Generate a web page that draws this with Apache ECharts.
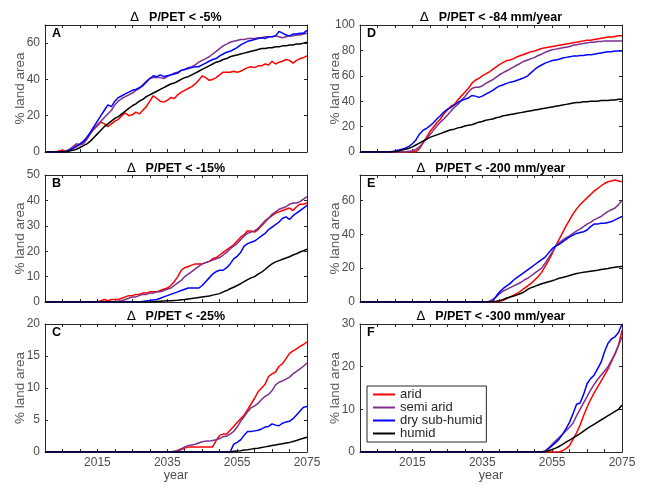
<!DOCTYPE html>
<html>
<head>
<meta charset="utf-8">
<script src="https://cdn.jsdelivr.net/npm/echarts@6/dist/echarts.min.js"></script>
<style>
  html, body { margin: 0; padding: 0; background: #fff; }
  #chart { width: 648px; height: 485px; }
</style>
</head>
<body>
<div id="chart"></div>
<script>
// years shared by every panel
const years = [
  2000, 2001, 2002, 2003, 2004, 2005, 2006, 2007, 2008, 2009,
  2010, 2011, 2012, 2013, 2014, 2015, 2016, 2017, 2018, 2019,
  2020, 2021, 2022, 2023, 2024, 2025, 2026, 2027, 2028, 2029,
  2030, 2031, 2032, 2033, 2034, 2035, 2036, 2037, 2038, 2039,
  2040, 2041, 2042, 2043, 2044, 2045, 2046, 2047, 2048, 2049,
  2050, 2051, 2052, 2053, 2054, 2055, 2056, 2057, 2058, 2059,
  2060, 2061, 2062, 2063, 2064, 2065, 2066, 2067, 2068, 2069,
  2070, 2071, 2072, 2073, 2074, 2075
];

// A: dP/PET < -5%
const aArid = [
  0, 0, 0, 0, 0.5, 1, 0.5, 1, 2, 3.5,
  4, 5.5, 8, 10.5, 12.5, 14.5, 16.5, 15.5, 14, 15.5,
  17, 18, 20, 21.5, 20, 20.5, 22, 21, 23, 25,
  28, 31, 29.5, 28, 27.5, 28.5, 30, 29.5, 31.5, 33,
  34, 35, 36, 37.5, 39.5, 42, 41, 39.5, 40, 41,
  42.5, 44, 44, 44, 44.5, 44, 44.5, 45.5, 46.5, 47,
  46.5, 47.5, 47.5, 48.5, 48, 50, 48.5, 49.5, 50, 51,
  50.5, 49, 50.5, 51.5, 52, 53
];
const aSemi = [
  0, 0, 0, 0, 0, 0, 0.5, 1.5, 3, 4.5,
  4, 4.5, 7, 10, 13, 15, 17, 19, 21, 23,
  26, 28, 29.5, 30.5, 31.5, 32.5, 34, 35, 37, 39,
  40.5, 41, 41, 41, 40.5, 41.5, 42.5, 43.5, 44, 45,
  45.5, 46.5, 47, 48, 49.5, 50.5, 51.5, 52.5, 54, 55.5,
  57, 58.5, 59.5, 60.5, 61, 61.5, 62, 62, 62.5, 62.5,
  62.5, 63, 63, 63.5, 63.5, 63.5, 64, 63.5, 63, 63.5,
  64, 64, 64.5, 64.5, 65, 65.5
];
const aDry = [
  0, 0, 0, 0, 0, 0, 0.3, 1, 2, 3,
  4.5, 6, 8, 11, 14, 17, 20, 23, 26, 25,
  28, 30, 31, 32, 33, 34, 34.5, 35.5, 36.5, 38.5,
  40.5, 42, 41.5, 42.5, 41.5, 42, 42.5, 43, 43.5, 45,
  45.5, 46, 46.5, 47, 47, 48, 49, 50, 51, 51.5,
  53, 54, 55, 55.5, 56.5, 57.5, 59, 60, 61, 61.5,
  62, 62.5, 63, 62.5, 63.5, 63.5, 64, 66.5, 65.5, 64.5,
  64, 65, 65, 65.5, 65.5, 67
];
const aHumid = [
  0, 0, 0, 0, 0, 0, 0, 0.5, 1, 1.5,
  2.5, 3.5, 4.5, 6, 8, 10, 12, 14, 15.5, 17,
  18.5, 19.5, 21, 22.5, 24, 25.5, 26.5, 28, 29, 30.5,
  31.5, 32.5, 33.5, 34.5, 35.5, 36.5, 37.5, 38, 39, 40,
  41, 41.5, 42.5, 43.5, 44.5, 45.5, 46.5, 47.5, 48.5, 49.5,
  50, 51, 51.5, 52.5, 53, 53.5, 54, 54.5, 55, 55.5,
  56, 56.5, 57, 57, 57.5, 57.5, 58, 58, 58.5, 58.5,
  59, 59, 59.5, 59.5, 60, 60.5
];

// B: dP/PET < -15%
const bArid = [
  0, 0, 0, 0, 0, 0, 0, 0, 0, 0,
  0, 0, 0, 0, 0, 0, 0.5, 1, 0.5, 1,
  1, 1, 1.5, 2, 2.5, 2.5, 3, 3, 3.5, 3.5,
  4, 4, 4, 4.5, 5, 5.5, 6.5, 8, 10, 12.5,
  13.5, 14, 14.5, 15, 15, 15, 15.5, 16, 17, 17.5,
  18.5, 19.5, 20.5, 21.5, 22.5, 24, 25.5, 26.5, 28, 28,
  27.5, 28.5, 30, 31.5, 33, 34, 35, 35.5, 36, 36.5,
  37, 36, 37.5, 38.5, 38.5, 39
];
const bSemi = [
  0, 0, 0, 0, 0, 0, 0, 0, 0, 0,
  0, 0, 0, 0, 0, 0, 0, 0, 0, 0,
  0, 0.3, 0.5, 1, 1.5, 2, 2, 2.5, 3, 3,
  3.5, 3.5, 4, 4, 4.5, 5, 5.5, 6.5, 7.5, 8.5,
  10, 11, 12, 13, 14, 15, 15.5, 16, 16.5, 17,
  17.5, 18.5, 19.5, 21, 22, 23, 24.5, 26, 27, 27.5,
  28, 29, 30.5, 32, 33, 34.5, 35.5, 36.5, 37, 37.5,
  38.5, 39, 39, 39.5, 40.5, 41.5
];
const bDry = [
  0, 0, 0, 0, 0, 0, 0, 0, 0, 0,
  0, 0, 0, 0, 0, 0, 0, 0, 0, 0,
  0, 0, 0, 0, 0, 0, 0, 0, 0.2, 0.4,
  0.6, 0.8, 1, 1.5, 2, 2.5, 3, 3.5, 4, 4.5,
  5, 5.5, 5.5, 5.5, 5.5, 6.5, 8, 9.5, 11, 12,
  12.5, 12.5, 13.5, 15, 17, 18, 19.5, 22, 23, 23.5,
  24, 25, 26, 27, 28.5, 29.5, 30.5, 31.5, 33, 33.5,
  32.5, 34, 35, 36, 37, 38
];
const bHumid = [
  0, 0, 0, 0, 0, 0, 0, 0, 0, 0,
  0, 0, 0, 0, 0, 0, 0, 0, 0, 0,
  0, 0, 0, 0, 0, 0, 0, 0, 0, 0,
  0, 0.1, 0.2, 0.3, 0.4, 0.5, 0.5, 0.6, 0.7, 0.9,
  1, 1.2, 1.4, 1.6, 1.8, 2, 2.2, 2.4, 2.7, 3,
  3.3, 4, 4.5, 5.2, 5.8, 6.5, 7.2, 8, 8.8, 9.5,
  10, 11, 11.8, 12.8, 14, 15, 15.8, 16.3, 16.8, 17.3,
  17.8, 18.5, 19, 19.7, 20.2, 20.8
];

// C: dP/PET < -25%
const cArid = [
  0, 0, 0, 0, 0, 0, 0, 0, 0, 0,
  0, 0, 0, 0, 0, 0, 0, 0, 0, 0,
  0, 0, 0, 0, 0, 0, 0, 0, 0, 0,
  0, 0, 0, 0, 0, 0, 0, 0, 0.2, 0.4,
  0.6, 0.8, 0.8, 0.8, 0.8, 0.8, 0.8, 0.8, 0.8, 1.8,
  2.6, 2.8, 2.8, 3.4, 4, 4.6, 5.2, 5.8, 6.6, 7.5,
  8.4, 9.4, 10, 10.6, 11.8, 12.2, 12.5, 13.4, 13.8, 14.6,
  15.4, 15.8, 16.1, 16.5, 16.8, 17.2
];
const cSemi = [
  0, 0, 0, 0, 0, 0, 0, 0, 0, 0,
  0, 0, 0, 0, 0, 0, 0, 0, 0, 0,
  0, 0, 0, 0, 0, 0, 0, 0, 0, 0,
  0, 0, 0, 0, 0, 0, 0, 0.1, 0.3, 0.5,
  0.8, 1, 1.1, 1.2, 1.4, 1.6, 1.7, 1.7, 1.8, 1.9,
  2.1, 2.4, 2.5, 2.8, 3.2, 3.9, 4.8, 5.5, 6.3, 6.9,
  7.2, 7.6, 8.2, 8.7, 9, 9.6, 10.5, 10.9, 11.1, 11.4,
  11.7, 12.2, 12.6, 13, 13.4, 13.9
];
const cDry = [
  0, 0, 0, 0, 0, 0, 0, 0, 0, 0,
  0, 0, 0, 0, 0, 0, 0, 0, 0, 0,
  0, 0, 0, 0, 0, 0, 0, 0, 0, 0,
  0, 0, 0, 0, 0, 0, 0, 0, 0, 0,
  0, 0, 0, 0, 0, 0, 0, 0, 0, 0,
  0, 0, 0, 0, 1.2, 1.5, 1.9, 2.6, 3.2, 3.2,
  3.3, 3.4, 3.6, 3.9, 4, 4.4, 4.2, 4.1, 4.5, 4.7,
  4.8, 5.2, 5.8, 6.4, 7, 7.1
];
const cHumid = [
  0, 0, 0, 0, 0, 0, 0, 0, 0, 0,
  0, 0, 0, 0, 0, 0, 0, 0, 0, 0,
  0, 0, 0, 0, 0, 0, 0, 0, 0, 0,
  0, 0, 0, 0, 0, 0, 0, 0, 0, 0,
  0, 0, 0, 0, 0, 0, 0, 0, 0, 0,
  0, 0, 0, 0.05, 0.1, 0.15, 0.2, 0.3, 0.35, 0.45,
  0.55, 0.6, 0.7, 0.8, 0.9, 1, 1.1, 1.2, 1.3, 1.4,
  1.5, 1.65, 1.8, 2, 2.15, 2.3
];

// D: dP/PET < -84 mm/year
const dArid = [
  0, 0, 0, 0, 0, 0, 0, 0, 0, 0,
  0, 0, 0, 0, 0, 0, 0.3, 2.5, 7, 11.5,
  16, 19.5, 23, 26, 30, 33, 36, 37.5, 41, 44,
  47, 50, 54, 56.5, 58, 60, 61.5, 63, 65, 67,
  69, 70.5, 72, 72.5, 73.5, 75, 76, 77, 78, 79,
  79.5, 80.5, 81.5, 82, 82.5, 83, 83.5, 84, 84.5, 85,
  85.5, 86, 86.5, 87, 87.5, 88, 88, 88.5, 89, 89.5,
  90, 90.5, 90.5, 91, 91.5, 91.5
];
const dSemi = [
  0, 0, 0, 0, 0, 0, 0, 0, 0, 0,
  0, 0, 0, 0.2, 0.5, 1, 2, 4, 7, 10.5,
  13.5, 17, 20.5, 23.5, 26, 29, 32, 35, 37.5, 40.5,
  43.5, 47, 50, 51, 51, 52, 54, 55.5, 57, 59,
  61, 62.5, 64, 65.5, 67, 68.5, 70, 71.5, 72.5, 73.5,
  74.5, 76, 77, 78.5, 79.5, 80.5, 81, 81.5, 82, 82.5,
  83, 84, 84.5, 85, 85.5, 86, 86.5, 86.5, 87, 87,
  87.5, 87.5, 87.5, 87.5, 87.5, 87.5
];
const dDry = [
  0, 0, 0, 0, 0, 0, 0, 0, 0, 0.3,
  0.8, 1.5, 2.2, 3, 4.5, 6.5, 9.5, 14, 17, 18.5,
  20.5, 23, 26, 28.5, 31.5, 33.5, 35, 37, 39, 40.5,
  41.5, 42.5, 44.5, 44, 43, 44, 45.5, 47, 48.5, 50.5,
  52, 53, 54, 55, 55.5, 56.5, 57.5, 58.5, 60, 62.5,
  65, 67, 68.5, 70, 71, 72, 72.5, 73, 74, 74.5,
  75, 75.5, 75.5, 76, 76, 76.5, 76.5, 77, 77.5, 78,
  78.5, 79, 79, 79.5, 79.5, 79.5
];
const dHumid = [
  0, 0, 0, 0, 0, 0, 0, 0, 0, 0,
  0.3, 0.8, 1.5, 2.2, 3, 4, 5.5, 7, 8.5, 10,
  11.5, 12.5, 13.5, 14.5, 15.5, 16.5, 17.5, 18, 19, 19.5,
  20.5, 21, 21.5, 22.5, 23.5, 24, 25, 25.5, 26, 27,
  27.5, 28.5, 29, 29.5, 30, 30.5, 31, 31.5, 32, 32.5,
  33, 33.5, 34, 34.5, 35, 35.5, 36, 36.5, 37, 37.5,
  38, 38.5, 39, 39, 39.5, 39.5, 40, 40, 40, 40.5,
  40.5, 40.5, 41, 41, 41.5, 41.5
];

// E: dP/PET < -200 mm/year
const eArid = [
  0, 0, 0, 0, 0, 0, 0, 0, 0, 0,
  0, 0, 0, 0, 0, 0, 0, 0, 0, 0,
  0, 0, 0, 0, 0, 0, 0, 0, 0, 0,
  0, 0, 0, 0, 0, 0, 0, 0, 0, 0.2,
  0.5, 1, 2, 3, 4, 5, 6.5, 8, 9.5, 11,
  13, 15, 17.5, 21, 24.5, 28.5, 33, 37, 41, 45,
  48.5, 52, 55, 57.5, 59.5, 61.5, 63.5, 65.5, 67, 68.5,
  70, 71, 71.5, 72, 71.5, 71
];
const eSemi = [
  0, 0, 0, 0, 0, 0, 0, 0, 0, 0,
  0, 0, 0, 0, 0, 0, 0, 0, 0, 0,
  0, 0, 0, 0, 0, 0, 0, 0, 0, 0,
  0, 0, 0, 0, 0, 0, 0, 0.5, 1.5, 3,
  5, 6.5, 7.5, 8.5, 9.5, 10.5, 11.5, 13, 14, 15.5,
  17, 18.5, 20, 23, 26, 29.5, 33, 35, 36.5, 38,
  39, 40.5, 42, 43, 44.5, 46, 47, 48.5, 49.5, 50.5,
  52, 53.5, 54.5, 55.5, 57.5, 60
];
const eDry = [
  0, 0, 0, 0, 0, 0, 0, 0, 0, 0,
  0, 0, 0, 0, 0, 0, 0, 0, 0, 0,
  0, 0, 0, 0, 0, 0, 0, 0, 0, 0,
  0, 0, 0, 0, 0, 0, 0, 0, 0.5, 3.5,
  6, 8, 9.5, 11, 13, 14.5, 16, 17.5, 19, 20.5,
  22, 23.5, 25, 26.5, 29, 31.5, 33, 34, 35.5, 37,
  38.5, 39.5, 40.5, 41, 41.5, 42.5, 44.5, 46, 46, 46.5,
  46.5, 47, 47.5, 48.5, 49.5, 50.5
];
const eHumid = [
  0, 0, 0, 0, 0, 0, 0, 0, 0, 0,
  0, 0, 0, 0, 0, 0, 0, 0, 0, 0,
  0, 0, 0, 0, 0, 0, 0, 0, 0, 0,
  0, 0, 0, 0, 0, 0, 0, 0.1, 0.2, 0.4,
  0.8, 1.5, 2.4, 3, 3.5, 4.2, 5, 6, 7.5, 8.5,
  9.2, 10, 10.8, 11.4, 12, 12.5, 13.2, 14, 14.5, 15,
  15.6, 16.2, 16.8, 17.2, 17.5, 17.8, 18.2, 18.5, 18.8, 19.2,
  19.5, 19.8, 20.2, 20.5, 20.8, 21
];

// F: dP/PET < -300 mm/year
const fArid = [
  0, 0, 0, 0, 0, 0, 0, 0, 0, 0,
  0, 0, 0, 0, 0, 0, 0, 0, 0, 0,
  0, 0, 0, 0, 0, 0, 0, 0, 0, 0,
  0, 0, 0, 0, 0, 0, 0, 0, 0, 0,
  0, 0, 0, 0, 0, 0, 0, 0, 0, 0,
  0, 0, 0, 0, 0, 0, 0, 0, 0.3, 0.8,
  1.5, 3, 4.5, 6.3, 8.5, 10.5, 12.3, 13.8, 15.2, 16.6,
  18, 19.5, 21.2, 23, 25, 28.5
];
const fSemi = [
  0, 0, 0, 0, 0, 0, 0, 0, 0, 0,
  0, 0, 0, 0, 0, 0, 0, 0, 0, 0,
  0, 0, 0, 0, 0, 0, 0, 0, 0, 0,
  0, 0, 0, 0, 0, 0, 0, 0, 0, 0,
  0, 0, 0, 0, 0, 0, 0, 0, 0, 0,
  0, 0, 0, 0.3, 1, 1.8, 2.6, 3.4, 4.2, 5,
  5.8, 6.8, 8.5, 10, 11.5, 13, 14.5, 15.8, 17, 18,
  19, 20, 21.5, 23, 25, 27
];
const fDry = [
  0, 0, 0, 0, 0, 0, 0, 0, 0, 0,
  0, 0, 0, 0, 0, 0, 0, 0, 0, 0,
  0, 0, 0, 0, 0, 0, 0, 0, 0, 0,
  0, 0, 0, 0, 0, 0, 0, 0, 0, 0,
  0, 0, 0, 0, 0, 0, 0, 0, 0, 0,
  0, 0, 0, 0, 0.8, 1.5, 2.2, 3, 4.2, 5.5,
  7, 9, 11.2, 11.5, 13.5, 16, 17.2, 18, 19.5, 21,
  23.5, 25.5, 26.5, 27, 28, 30
];
const fHumid = [
  0, 0, 0, 0, 0, 0, 0, 0, 0, 0,
  0, 0, 0, 0, 0, 0, 0, 0, 0, 0,
  0, 0, 0, 0, 0, 0, 0, 0, 0, 0,
  0, 0, 0, 0, 0, 0, 0, 0, 0, 0,
  0, 0, 0, 0, 0, 0, 0, 0, 0, 0,
  0, 0, 0, 0.1, 0.3, 0.6, 0.9, 1.3, 1.8, 2.3,
  2.8, 3.3, 3.8, 4.3, 4.9, 5.5, 6, 6.5, 7, 7.5,
  8, 8.5, 9, 9.5, 10, 11
];

const seriesNames = ["arid", "semi arid", "dry sub-humid", "humid"];
const seriesColors = ["#ff0000", "#7e2f8e", "#0000ff", "#000000"];
const xTickLabels = [2015, 2035, 2055, 2075];

const panels = [
  { letter: "A", title: "P/PET < -5%", max: 70, step: 20, col: 0, row: 0, values: [aArid, aSemi, aDry, aHumid] },
  { letter: "B", title: "P/PET < -15%", max: 50, step: 10, col: 0, row: 1, values: [bArid, bSemi, bDry, bHumid] },
  { letter: "C", title: "P/PET < -25%", max: 20, step: 5, col: 0, row: 2, values: [cArid, cSemi, cDry, cHumid] },
  { letter: "D", title: "P/PET < -84 mm/year", max: 100, step: 20, col: 1, row: 0, values: [dArid, dSemi, dDry, dHumid] },
  { letter: "E", title: "P/PET < -200 mm/year", max: 75, step: 20, col: 1, row: 1, values: [eArid, eSemi, eDry, eHumid] },
  { letter: "F", title: "P/PET < -300 mm/year", max: 30, step: 10, col: 1, row: 2, values: [fArid, fSemi, fDry, fHumid] }
];

const font = '"Liberation Sans", Arial, Helvetica, sans-serif';
const colLeft = [45, 360];
const rowTop = [25, 175, 324];
const rowHeight = [127, 127, 128];
const titleMid = [17, 167.5, 316];
const plotWidth = 262;
const frame = "#262626";

const grid = [], xAxis = [], yAxis = [], series = [], title = [];

panels.forEach((p, i) => {
  const left = colLeft[p.col];
  const top = rowTop[p.row];
  const bottomRow = p.row === 2;
  grid.push({ left: left, top: top, width: plotWidth, height: rowHeight[p.row] });

  // bottom and top x axes (top one only draws the frame + ticks)
  ["bottom", "top"].forEach(pos => {
    xAxis.push({
      type: "value",
      gridIndex: i,
      position: pos,
      min: 2000,
      max: 2075,
      interval: 5,
      axisLine: { show: true, onZero: false, lineStyle: { color: frame, width: 1 } },
      axisTick: { show: true, inside: true, length: 3, lineStyle: { color: frame } },
      axisLabel: {
        show: pos === "bottom" && bottomRow,
        margin: 5,
        color: "#4d4d4d",
        fontSize: 12,
        fontFamily: font,
        formatter: v => (xTickLabels.indexOf(v) >= 0 ? String(v) : "")
      },
      splitLine: { show: false },
      name: pos === "bottom" && bottomRow ? "year" : "",
      nameLocation: "middle",
      nameGap: 17,
      nameMoveOverlap: false,
      nameTextStyle: { color: "#4d4d4d", fontSize: 12.5, fontFamily: font }
    });
  });

  ["left", "right"].forEach(pos => {
    yAxis.push({
      type: "value",
      gridIndex: i,
      position: pos,
      min: 0,
      max: p.max,
      interval: p.step,
      axisLine: { show: true, onZero: false, lineStyle: { color: frame, width: 1 } },
      axisTick: { show: true, inside: true, length: 3, lineStyle: { color: frame } },
      axisLabel: {
        show: pos === "left",
        margin: 5,
        color: "#4d4d4d",
        fontSize: 12,
        fontFamily: font,
        formatter: v => (v % p.step === 0 ? String(v) : "")
      },
      splitLine: { show: false },
      name: pos === "left" ? "% land area" : "",
      nameLocation: "middle",
      nameGap: 18,
      nameMoveOverlap: false,
      nameTextStyle: { color: "#595959", fontSize: 13.5, fontFamily: font }
    });
  });

  p.values.forEach((vals, k) => {
    series.push({
      name: seriesNames[k],
      type: "line",
      xAxisIndex: 2 * i,
      yAxisIndex: 2 * i,
      symbol: "none",
      smooth: false,
      lineStyle: { color: seriesColors[k], width: 1.5 },
      itemStyle: { color: seriesColors[k] },
      data: years.map((y, j) => [y, vals[j]])
    });
  });

  title.push({
    text: "{d|\u2206}  {t|" + p.title + "}",
    left: left + plotWidth / 2,
    top: titleMid[p.row] - 8,
    textAlign: "center",
    padding: 0,
    textStyle: {
      rich: {
        d: { fontSize: 13, fontWeight: "normal", color: "#000", fontFamily: "DejaVu Sans" },
        t: { fontSize: 12.5, fontWeight: "bold", color: "#000", fontFamily: font }
      }
    }
  });
  title.push({
    text: p.letter,
    left: left + 7,
    top: top + 2,
    padding: 0,
    textStyle: { fontSize: 12.5, fontWeight: "bold", color: "#000", fontFamily: font }
  });
});

const chart = echarts.init(document.getElementById("chart"));
chart.setOption({
  animation: false,
  backgroundColor: "#fff",
  title: title,
  grid: grid,
  xAxis: xAxis,
  yAxis: yAxis,
  legend: {
    data: seriesNames,
    orient: "vertical",
    left: 367,
    top: 386,
    padding: [2, 4, 2, 5],
    itemGap: 0,
    itemWidth: 22,
    itemHeight: 14,
    selectedMode: false,
    backgroundColor: "#fff",
    borderColor: frame,
    borderWidth: 1,
    borderRadius: 0,
    // hide the marker dot, keep only the line sample
    itemStyle: { color: "rgba(0,0,0,0)", borderColor: "rgba(0,0,0,0)", borderWidth: 0 },
    textStyle: { fontSize: 13, color: "#262626", fontFamily: font, padding: [0, 0, 0, 0] }
  },
  series: series
});
</script>
</body>
</html>
